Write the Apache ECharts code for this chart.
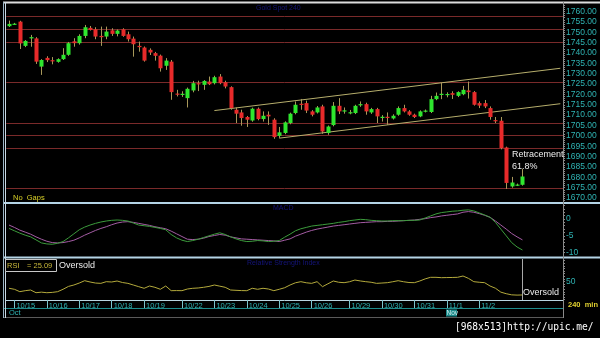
<!DOCTYPE html>
<html><head><meta charset="utf-8">
<script src="https://cdn.jsdelivr.net/npm/echarts@6/dist/echarts.min.js"></script>
<style>html,body{margin:0;padding:0;background:#000;overflow:hidden}#c{width:600px;height:338px}</style>
</head><body><div id="c"></div>
<script>
// ---- data (240 min candles, Gold) ----
const opens = [1752.9,1754.0,1755.1,1743.4,1747.2,1747.0,1733.4,1737.6,1736.5,1735.7,
1737.0,1739.1,1745.6,1744.7,1748.2,1752.1,1751.4,1748.2,1747.9,1750.9,
1749.2,1751.4,1749.0,1746.9,1743.4,1742.6,1741.5,1739.9,1738.7,1733.8,
1735.8,1720.4,1720.0,1718.2,1721.9,1725.4,1724.6,1726.2,1725.4,1728.6,
1725.9,1723.5,1712.6,1711.3,1709.1,1707.4,1713.1,1708.1,1710.2,1707.8,
1700.0,1701.4,1706.2,1711.0,1715.5,1715.8,1711.8,1711.3,1714.2,1701.4,
1705.2,1714.5,1712.0,1711.2,1711.0,1715.0,1715.3,1711.3,1712.9,1709.0,
1709.2,1708.4,1710.2,1713.4,1711.8,1710.2,1709.4,1711.8,1711.5,1717.7,
1720.0,1720.1,1720.6,1719.3,1720.1,1721.9,1721.1,1715.8,1715.8,1713.4,
1707.6,1707.3,1694.4,1675.6,1676.3,1676.4];
const closes = [1754.0,1754.1,1744.6,1745.8,1747.6,1735.8,1736.6,1736.5,1736.0,1737.0,
1739.1,1744.7,1744.7,1748.2,1752.4,1751.1,1747.9,1747.6,1750.3,1749.2,
1750.8,1748.2,1746.6,1744.2,1742.8,1736.3,1740.2,1738.6,1732.6,1736.3,
1721.1,1720.0,1720.3,1722.7,1725.4,1724.9,1726.5,1724.9,1728.3,1725.4,
1723.8,1713.4,1710.7,1708.6,1707.8,1713.1,1708.1,1709.7,1709.4,1699.4,
1701.7,1706.5,1710.7,1715.0,1715.3,1712.2,1710.2,1713.7,1702.1,1704.5,
1714.5,1711.8,1712.3,1711.4,1714.5,1715.3,1711.8,1712.9,1709.4,1709.2,
1709.0,1709.7,1713.4,1711.8,1710.2,1709.1,1711.8,1712.2,1717.7,1719.3,
1720.3,1720.2,1719.8,1721.1,1722.2,1721.1,1715.0,1714.6,1714.2,1709.1,
1707.0,1694.1,1677.3,1677.5,1676.5,1680.4];
const lows = [1752.5,1753.6,1741.9,1742.8,1743.0,1734.7,1729.4,1735.6,1734.5,1735.3,
1736.6,1738.6,1743.0,1744.0,1747.1,1750.8,1746.6,1743.4,1746.6,1748.2,
1748.0,1747.8,1745.5,1738.2,1740.6,1735.8,1739.0,1736.3,1731.0,1731.8,
1717.4,1719.0,1718.8,1713.7,1721.0,1721.6,1722.2,1724.5,1724.8,1724.9,
1722.9,1712.6,1706.2,1704.9,1704.3,1706.8,1707.5,1706.9,1705.3,1698.6,
1699.0,1700.8,1705.6,1710.4,1712.6,1711.0,1709.4,1710.8,1701.0,1700.5,
1704.6,1710.5,1710.7,1710.4,1710.5,1714.0,1710.2,1710.6,1706.2,1706.9,
1705.3,1707.9,1709.7,1711.3,1709.7,1708.6,1709.0,1711.3,1711.0,1717.2,
1717.7,1718.6,1717.8,1718.7,1719.6,1718.0,1714.6,1713.4,1713.4,1707.8,
1706.2,1693.5,1674.4,1675.0,1675.8,1676.0];
const highs = [1755.6,1754.5,1755.5,1746.2,1748.7,1747.6,1737.0,1738.4,1738.0,1737.4,
1742.3,1745.3,1747.1,1749.0,1753.5,1753.0,1752.4,1752.7,1752.7,1751.9,
1751.3,1751.9,1750.3,1747.9,1745.5,1743.1,1742.2,1740.5,1739.2,1737.5,
1736.6,1722.2,1721.5,1723.3,1726.5,1726.6,1726.9,1728.6,1729.0,1729.8,
1726.6,1723.9,1713.7,1712.6,1709.6,1713.6,1713.7,1711.8,1711.8,1708.5,
1704.3,1707.0,1711.2,1716.6,1717.8,1717.0,1712.4,1714.4,1715.0,1705.0,
1716.3,1718.2,1713.7,1712.5,1715.0,1716.6,1716.0,1713.5,1713.5,1710.0,
1711.3,1710.4,1714.2,1715.0,1712.4,1710.7,1712.3,1712.7,1719.3,1720.9,
1725.7,1721.0,1721.5,1721.5,1724.1,1726.2,1721.6,1716.6,1717.3,1714.2,
1709.1,1709.1,1694.8,1680.2,1677.0,1684.0];
const oscFast = [-2.8,-3.5,-4.2,-4.8,-5.3,-6.2,-7.1,-7.4,-7.5,-7.2,
-6.7,-5.6,-4.4,-3.2,-2.4,-1.8,-1.3,-0.9,-0.6,-0.4,
-0.3,-0.4,-0.6,-1.2,-1.8,-2.0,-2.2,-2.5,-2.8,-3.2,
-4.6,-5.6,-6.3,-6.7,-6.4,-6.0,-5.5,-5.0,-4.5,-4.1,
-4.6,-5.3,-5.9,-6.4,-6.7,-6.6,-6.4,-6.5,-6.7,-6.6,
-6.4,-5.4,-4.5,-3.5,-2.9,-2.5,-2.1,-1.9,-1.7,-1.5,
-1.3,-1.0,-0.8,-0.5,-0.3,-0.1,-0.2,-0.4,-0.5,-0.6,
-0.6,-0.5,-0.5,-0.5,-0.4,-0.4,-0.3,0.3,0.9,1.5,
1.9,2.1,2.3,2.4,2.6,2.7,2.4,1.8,1.2,0.5,
-1.0,-3.0,-5.0,-7.0,-8.3,-9.2];
const oscSlow = [-1.8,-2.5,-3.3,-3.9,-4.5,-5.3,-6.0,-6.6,-7.0,-7.1,
-7.0,-6.7,-6.3,-5.6,-4.8,-4.1,-3.4,-2.8,-2.3,-1.7,
-1.2,-0.9,-0.8,-1.0,-1.3,-1.6,-1.9,-2.3,-2.6,-2.9,
-3.6,-4.4,-5.2,-6.0,-6.1,-6.0,-5.7,-5.2,-4.9,-4.6,
-4.8,-5.3,-5.6,-5.9,-6.0,-6.1,-6.2,-6.3,-6.4,-6.5,
-6.7,-6.3,-5.9,-5.1,-4.5,-3.9,-3.4,-3.0,-2.7,-2.4,
-2.1,-1.9,-1.7,-1.5,-1.3,-1.1,-1.0,-0.9,-0.8,-0.8,
-0.7,-0.7,-0.6,-0.5,-0.4,-0.3,-0.1,0.1,0.4,0.6,
0.9,1.1,1.3,1.5,2.0,2.2,2.0,1.6,1.1,0.5,
-0.6,-1.8,-3.0,-4.3,-5.3,-6.2];
const rsi = [37.9,36.0,31.4,33.3,34.6,29.4,30.5,29.4,30.0,31.4,
36.0,41.5,44.2,48.0,52.5,50.0,48.0,47.4,50.6,50.0,
51.9,49.0,47.4,44.2,41.0,37.9,42.3,39.8,36.0,42.3,
33.3,33.5,33.3,36.5,37.9,38.5,39.8,41.5,44.2,42.0,
39.8,34.6,34.0,33.5,33.3,37.9,36.0,37.9,36.5,33.3,
36.0,39.0,44.2,48.5,50.6,48.5,47.4,50.6,41.0,46.5,
51.9,49.5,48.7,50.5,53.8,52.0,50.6,49.5,47.4,48.0,
48.7,50.5,52.5,50.5,49.0,48.7,51.9,56.0,59.0,59.0,
58.3,58.5,58.7,59.0,61.5,57.0,50.6,49.5,48.7,42.3,
38.0,30.5,27.5,25.3,24.8,25.09];
const fibLevels = [1757.7,1751.5,1745.3,1725.9,1706.3,1700.2,1694.1,1674.5];
const channelUpper = [[38,1712.2],[102,1732.6]];
const channelLower = [[50,1698.9],[102,1715.5]];
const dateLabels = ['10/15','10/16','10/17','10/18','10/19','10/22','10/23','10/24','10/25','10/26','10/29','10/30','10/31','11/1','11/2'];
const dateLabelIndex = [1,7,13,19,25,32,38,44,50,56,63,69,75,81,87];
const priceLabels = [1670,1675,1680,1685,1690,1695,1700,1705,1710,1715,1720,1725,1730,1735,1740,1745,1750,1755,1760];
const oscLabels = [0,-5,-10];
const rsiLabels = [50];
const slotCount = 103; // candle slots incl. empty right margin

// ---- build ----
const cats = Array.from({length: slotCount}, (_, i) => String(i));
const labelMap = {};
dateLabelIndex.forEach((idx, k) => labelMap[idx] = dateLabels[k]);
const candleData = opens.map((o, i) => [i, o, closes[i], lows[i], highs[i]]);
const teal = '#2fb3b3';
const UP = '#2ee62e', DOWN = '#e82a2a', WICK = '#a8985a';
const FONT = 'Liberation Sans';

function tickVals(lo, hi, step) { const a = []; for (let v = lo; v <= hi + 1e-9; v += step) a.push(+v.toFixed(2)); return a; }

const chart = echarts.init(document.getElementById('c'), null, {renderer: 'canvas'});
const grids = [
  {left: 6.3, right: 37, top: 4, height: 198},
  {left: 6.3, right: 37, top: 205, height: 51},
  {left: 6.3, right: 37, top: 259, height: 41}
].map(g => Object.assign(g, {containLabel: false, outerBoundsMode: 'none', show: false}));

function xAx(gi, showLabels) {
  return {
    type: 'category', gridIndex: gi, data: cats, boundaryGap: true,
    axisLine: {show: showLabels, lineStyle: {color: '#b8d4e0', width: 1}},
    axisTick: {show: showLabels, alignWithLabel: true, length: 8, interval: (i) => labelMap[i] !== undefined, lineStyle: {color: '#7cc4cc'}},
    axisLabel: {show: showLabels, interval: (i) => labelMap[i] !== undefined, formatter: (v, i) => labelMap[i] || '',
      color: teal, fontSize: 7.5, fontFamily: FONT, align: 'left', margin: 1.5, padding: [0, 0, 0, 2]},
    splitLine: {show: false}
  };
}
function yAx(gi, min, max, labels, fmt, tickStep) {
  return {
    type: 'value', gridIndex: gi, position: 'right', min: min, max: max, scale: true,
    axisLine: {show: false},
    axisTick: {show: true, length: 2, customValues: tickVals(Math.ceil(min), Math.floor(max), tickStep), lineStyle: {color: '#8a8a8a'}},
    axisLabel: {show: true, customValues: labels, formatter: fmt, color: teal, fontSize: 8.5, fontFamily: FONT, margin: 3},
    splitLine: {show: false}
  };
}

function renderCandle(params, api) {
  const i = api.value(0);
  const o = api.value(1), c = api.value(2), l = api.value(3), h = api.value(4);
  const pO = api.coord([i, o]), pC = api.coord([i, c]), pL = api.coord([i, l]), pH = api.coord([i, h]);
  const cx = Math.round(pO[0]) + 0.5;
  const top = Math.min(pO[1], pC[1]), bot = Math.max(pO[1], pC[1]);
  const up = c >= o;
  return {type: 'group', children: [
    {type: 'line', shape: {x1: cx, y1: pH[1], x2: cx, y2: pL[1]}, style: {stroke: WICK, lineWidth: 1}},
    {type: 'rect', shape: {x: cx - 2, y: top, width: 4, height: Math.max(1.2, bot - top)}, style: {fill: up ? UP : DOWN}}
  ]};
}

function gLine(x1, y1, x2, y2, color, w) {
  return {type: 'line', silent: true, z: 50, shape: {x1, y1, x2, y2}, style: {stroke: color, lineWidth: w || 1}};
}
function gText(x, y, text, color, size, opts) {
  return Object.assign({type: 'text', silent: true, z: 60, x: x, y: y,
    style: Object.assign({text: text, fill: color, fontSize: size, fontFamily: FONT, textAlign: 'left', textVerticalAlign: 'middle', align: 'left', verticalAlign: 'middle'}, (opts && opts.style) || {})}, {});
}

const option = {
  backgroundColor: '#000000',
  animation: false,
  grid: grids,
  xAxis: [xAx(0, false), xAx(1, false), xAx(2, true)],
  yAxis: [
    yAx(0, 1668.1, 1763.6, priceLabels, v => Number(v).toFixed(2), 1),
    yAx(1, -10.98, 4.15, oscLabels, v => String(v), 1),
    yAx(2, 15.4, 94.2, rsiLabels, v => String(v), 5)
  ],
  series: [
    {type: 'custom', name: 'Price', xAxisIndex: 0, yAxisIndex: 0, data: candleData,
      encode: {x: 0, y: [1, 2, 3, 4]}, renderItem: renderCandle, clip: true, z: 5,
      markLine: {silent: true, symbol: 'none', label: {show: false}, z: 1,
        lineStyle: {color: '#7a2a2a', type: 'solid', width: 1},
        data: fibLevels.map(v => ({yAxis: v}))}},
    {type: 'line', xAxisIndex: 0, yAxisIndex: 0, data: channelUpper, symbol: 'none', silent: true, z: 3,
      lineStyle: {color: '#b6ae6c', width: 1}},
    {type: 'line', xAxisIndex: 0, yAxisIndex: 0, data: channelLower, symbol: 'none', silent: true, z: 3,
      lineStyle: {color: '#b6ae6c', width: 1}},
    {type: 'line', xAxisIndex: 1, yAxisIndex: 1, data: oscSlow, symbol: 'none', silent: true,
      lineStyle: {color: '#a45ca4', width: 1}},
    {type: 'line', xAxisIndex: 1, yAxisIndex: 1, data: oscFast, symbol: 'none', silent: true,
      lineStyle: {color: '#3c9c3c', width: 1}},
    {type: 'line', xAxisIndex: 2, yAxisIndex: 2, data: rsi, symbol: 'none', silent: true,
      lineStyle: {color: '#b4aa3c', width: 1},
      markLine: {silent: true, symbol: 'none', label: {show: false},
        lineStyle: {color: '#a8a8a8', type: 'solid', width: 1},
        data: [{xAxis: rsi.length - 1}]}}
  ],
  graphic: [
    gLine(3, 2.5, 600, 2.5, '#dcdcdc', 2),
    gLine(3, 203, 600, 203, '#b4d4e6', 2),
    gLine(3, 257.5, 600, 257.5, '#b4d4e6', 2),
    gLine(3, 308.5, 563, 308.5, '#1e8c8c', 1),
    gLine(3, 317.5, 563, 317.5, '#5a5a5a', 1),
    gLine(3.5, 2, 3.5, 318, '#9ab4c4', 1),
    gLine(5.5, 2, 5.5, 318, '#c8d8e4', 1),
    gLine(563.5, 2, 563.5, 318, '#8a8a8a', 1),
    gText(256, 8, 'Gold Spot 240', '#14147a', 7),
    gText(273, 208.5, 'MACD', '#14147a', 7),
    gText(247, 263.5, 'Relative Strength Index', '#14147a', 7),
    gText(13, 198, 'No  Gaps', '#d8d028', 7.5),
    gText(512, 155, 'Retracement', '#ececec', 9),
    gText(512, 167, '61.8%', '#ececec', 9),
    {type: 'rect', silent: true, z: 55, shape: {x: 5.5, y: 259.5, width: 51, height: 12}, style: {fill: '#000', stroke: '#c8c8c8', lineWidth: 1}},
    gText(7, 265.5, 'RSI', '#c8b83a', 7.5),
    gText(27, 265.5, '= 25.09', '#c8b83a', 7.5),
    gText(59, 265.5, 'Oversold', '#ececec', 9),
    gText(523, 293, 'Oversold', '#ececec', 9),
    gText(568, 305, '240  min', '#e0d030', 7.5, {style: {fontWeight: 'bold'}}),
    gText(9, 313, 'Oct', teal, 7.5),
    {type: 'rect', silent: true, z: 55, shape: {x: 446, y: 309.5, width: 11, height: 7}, style: {fill: '#1a8a8a'}},
    gText(446.5, 313, 'Nov', '#cfeeee', 6.5),
    {type: 'text', silent: true, z: 60, x: 455, y: 327.5, style: {text: '[968x513]http://upic.me/', fill: '#ffffff', fontSize: 9.6, fontFamily: 'DejaVu Sans Mono', textAlign: 'left', textVerticalAlign: 'middle', align: 'left', verticalAlign: 'middle'}}
  ]
};
chart.setOption(option);
</script>
</body></html>
